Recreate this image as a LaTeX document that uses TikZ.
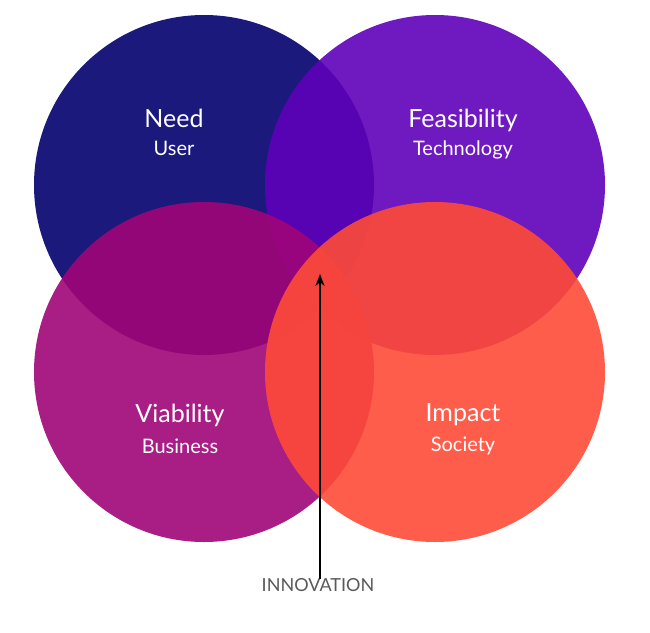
\documentclass[tikz,border=0pt]{standalone}
\usepackage{fontspec}
\setmainfont{Lato}
\usetikzlibrary{arrows.meta}
\definecolor{ColNeed}{RGB}{2,0,110}
\definecolor{ColFeas}{RGB}{95,0,185}
\definecolor{ColViab}{RGB}{160,5,120}
\definecolor{ColImp}{RGB}{255,75,55}
\tikzstyle{Disc}=[circle,minimum size=340pt,inner sep=0pt,fill opacity=.9]
\tikzstyle{Title}=[text=white,font=\fontsize{25}{25}\selectfont]
\tikzstyle{Sub}=[text=white,font=\fontsize{20}{20}\selectfont]
\begin{document}
\begin{tikzpicture}[x=1pt,y=-1pt]
    \useasboundingbox(0,0)rectangle(650,632);
    \node[Disc,fill=ColNeed](need)at(204,185){};
    \node[Disc,fill=ColFeas](feas)at(435,185){};
    \node[Disc,fill=ColViab](viab)at(204,372){};
    \node[Disc,fill=ColImp](imp)at(435,372){};
    \node[Title](t1)at(174,118){Need};
    \node[Sub](s1)at(174,148){User};
    \node[Title](t2)at(463,120){Feasibility};
    \node[Sub](s2)at(463,150){Technology};
    \node[Title](t3)at(180,415){Viability};
    \node[Sub](s3)at(180,446){Business};
    \node[Title](t4)at(463,415){Impact};
    \node[Sub](s4)at(463,446){Society};
    \node[text=black!65,font=\fontsize{18}{18}\selectfont](inn)at(318,585){INNOVATION};
    \coordinate(core)at(320,274);
    \draw[-{Stealth[length=12pt,width=9pt]},line width=1.8pt]([yshift=-4pt]inn.north-|core)--(core);
\end{tikzpicture}
\end{document}
